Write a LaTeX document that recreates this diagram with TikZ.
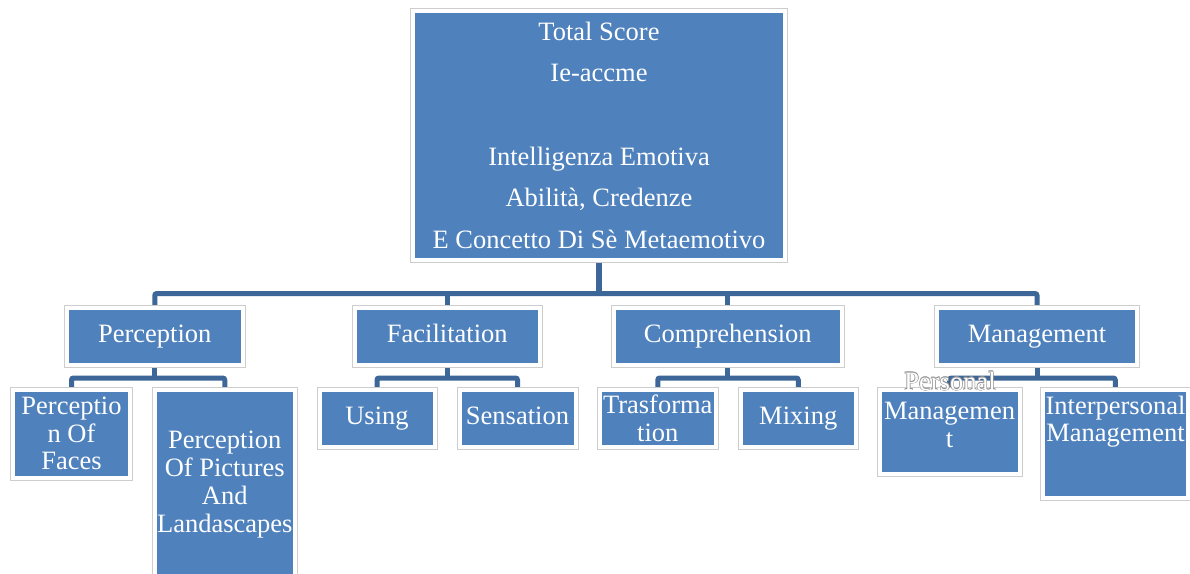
\documentclass[tikz,border=0pt]{standalone}
\usepackage{fontspec}
\setmainfont{Liberation Serif}
\usetikzlibrary{backgrounds}
\definecolor{boxblue}{RGB}{79,129,189}
\definecolor{linkblue}{RGB}{60,103,152}
\definecolor{framegray}{RGB}{205,205,205}
\definecolor{edgegray}{RGB}{150,150,150}
\tikzset{
  box/.style={fill=boxblue, draw=white, line width=4pt,
    preaction={draw=framegray, line width=6pt},
    inner sep=0pt, outer sep=0pt, text=white, align=center,
    font=\fontsize{26.5}{27.5}\selectfont},
  oneline/.style={text height=17.5pt, text depth=5.8pt},
  txt/.style={text=white, align=center, inner sep=0pt,
    font=\fontsize{26.5}{27.5}\selectfont},
  link/.style={draw=linkblue, line width=5pt, rounded corners=2pt},
}
\begin{document}
\begin{tikzpicture}[x=1pt, y=-1pt]
\clip (0,0) rectangle (1190,573);

% root
\node[box, minimum width=372, minimum height=249.5,
      font=\fontsize{26.5}{41.6}\selectfont] (root) at (599,135.25)
  {Total Score\\Ie-accme\\\mbox{}\\Intelligenza Emotiva\\Abilità, Credenze\\E Concetto Di Sè Metaemotivo};

% branches
\node[box, oneline, minimum width=175.5, minimum height=57.5] (perc) at (154.75,336.25) {Perception};
\node[box, oneline, minimum width=184.5, minimum height=57.5] (faci) at (447.25,336.25) {Facilitation};
\node[box, oneline, minimum width=227.5, minimum height=57.5] (comp) at (727.75,336.25) {Comprehension};
\node[box, oneline, minimum width=200,   minimum height=57.5] (mgmt) at (1037,336.25) {Management};

% leaves
\node[box, minimum width=117, minimum height=88] (faces) at (71.5,433.5) {Perceptio\\n Of\\Faces};
\node[box, minimum width=140.5, minimum height=190,
      font=\fontsize{26.5}{27.8}\selectfont] (pics) at (224.75,484.5)
  {Perception\\Of Pictures\\And\\Landascapes};
\node[box, oneline, minimum width=115, minimum height=57.5] (using) at (377,418.25) {Using};
\node[box, oneline, minimum width=116, minimum height=57.5] (sens) at (517.5,418.25) {Sensation};
\node[box, minimum width=116.5, minimum height=57.5] (trans) at (657.75,418.25) {Trasforma\\tion};
\node[box, oneline, minimum width=115.5, minimum height=57.5] (mix) at (798.25,418.25) {Mixing};
\node[box, minimum width=140, minimum height=84.5] (pers) at (949.5,431.75) {};
\node[box, minimum width=145.5, minimum height=108.5] (inter) at (1115.25,443.75) {};
\node[txt] (perstext) at (949.5,425) {Managemen\\t};
\node[txt] (intertext) at (1115.5,421.5) {Interpersonal\\Management};

% overflowing first line of the personal management label
\foreach \dx/\dy [count=\i] in {0.6/0, -0.6/0, 0/0.6, 0/-0.6, 0.45/0.45, -0.45/0.45, 0.45/-0.45, -0.45/-0.45}
  \node[txt, text=edgegray] (persedge\i) at (950+\dx,381+\dy) {Personal};
\node[txt] (perstop) at (950,381) {Personal};

% connectors
\coordinate (busA) at (0,293.5);
\coordinate (busB) at (0,378);
\begin{scope}[on background layer]
  \fill[white] (0,0) rectangle (1190,573);
  \draw[link, line width=6pt] (root.south) -- (root.south |- busA);
  \draw[link] (perc.north) |- (mgmt.north |- busA) -- (mgmt.north);
  \draw[link] (faci.north) -- (faci.north |- busA);
  \draw[link] (comp.north) -- (comp.north |- busA);

  \draw[link] (perc.south) -- (perc.south |- busB);
  \draw[link] (faces.north) |- (pics.north |- busB) -- (pics.north);
  \draw[link] (faci.south) -- (faci.south |- busB);
  \draw[link] (using.north) |- (sens.north |- busB) -- (sens.north);
  \draw[link] (comp.south) -- (comp.south |- busB);
  \draw[link] (trans.north) |- (mix.north |- busB) -- (mix.north);
  \draw[link] (mgmt.south) -- (mgmt.south |- busB);
  \draw[link] (pers.north) |- (inter.north |- busB) -- (inter.north);
\end{scope}
\end{tikzpicture}
\end{document}
